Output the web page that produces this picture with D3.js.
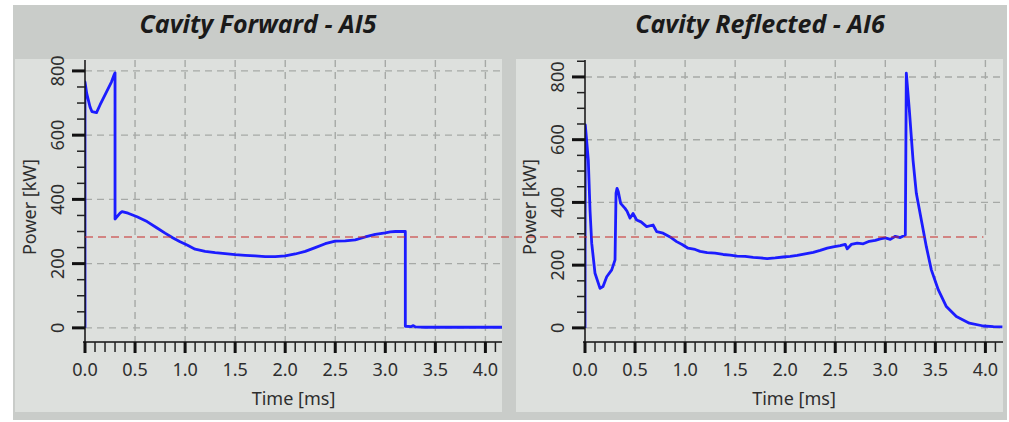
<!DOCTYPE html>
<html>
<head>
<meta charset="utf-8">
<script src="https://cdn.jsdelivr.net/npm/d3@7"></script>
<style>
  html, body { margin: 0; padding: 0; background: #ffffff; }
  svg { display: block; }
</style>
</head>
<body>
<svg id="chart" width="1009" height="422"></svg>
<script>
// Cavity forward power (AI5): time [ms] and power [kW]
const forwardTime = [0, 0, 0.017, 0.05, 0.07, 0.115, 0.15, 0.215, 0.265, 0.29, 0.30, 0.30, 0.35, 0.37, 0.43, 0.52, 0.62, 0.72, 0.80, 0.88, 0.95, 1.02, 1.10, 1.20, 1.30, 1.40, 1.50, 1.60, 1.70, 1.80, 1.90, 2.00, 2.10, 2.20, 2.30, 2.40, 2.50, 2.60, 2.70, 2.80, 2.90, 3.00, 3.05, 3.10, 3.20, 3.20, 3.26, 3.28, 3.30, 3.40, 4.17];
const forwardPower = [0, 766, 730, 688, 673, 670, 694, 735, 766, 787, 794, 339, 357, 362, 357, 346, 331, 311, 295, 280, 268, 258, 245, 238, 234, 231, 228, 226, 224, 222, 222, 224, 230, 238, 250, 262, 270, 271, 274, 283, 291, 296, 299, 300, 300, 5, 4, 7, 3, 2, 2];

// Cavity reflected power (AI6)
const reflectedTime = [0, 0.003, 0.033, 0.05, 0.067, 0.10, 0.15, 0.18, 0.217, 0.267, 0.30, 0.31, 0.32, 0.333, 0.356, 0.40, 0.42, 0.45, 0.48, 0.516, 0.56, 0.616, 0.68, 0.716, 0.78, 0.85, 0.915, 0.97, 1.03, 1.10, 1.15, 1.22, 1.30, 1.38, 1.45, 1.52, 1.60, 1.68, 1.75, 1.82, 1.90, 1.98, 2.05, 2.12, 2.20, 2.28, 2.35, 2.42, 2.48, 2.55, 2.60, 2.62, 2.66, 2.72, 2.78, 2.84, 2.90, 2.95, 3.00, 3.05, 3.10, 3.15, 3.20, 3.21, 3.24, 3.277, 3.31, 3.36, 3.41, 3.46, 3.53, 3.61, 3.71, 3.84, 3.98, 4.08, 4.17];
const reflectedPower = [0, 647, 535, 376, 270, 174, 126, 132, 163, 185, 217, 430, 445, 434, 397, 381, 372, 350, 365, 344, 338, 323, 328, 307, 302, 290, 275, 266, 254, 250, 244, 240, 238, 234, 232, 229, 228, 225, 223, 221, 223, 226, 228, 231, 236, 241, 247, 254, 258, 262, 266, 252, 266, 270, 268, 276, 279, 284, 287, 282, 292, 288, 296, 812, 695, 535, 429, 344, 259, 185, 121, 68, 36, 15, 6, 4, 3];

// Axis ticks
const timeMajorTicks = [0, 0.5, 1.0, 1.5, 2.0, 2.5, 3.0, 3.5, 4.0];
const powerMajorTicks = [0, 200, 400, 600, 800];

// Horizontal reference level shared by both panels
const referenceLevelKW = 283;
const referenceEndMs = 3.98;

const titles = ["Cavity Forward - AI5", "Cavity Reflected - AI6"];

const svg = d3.select("#chart");
const fontFamily = "'Noto Sans', 'Open Sans', sans-serif";

// frame
svg.append("rect").attr("x", 13).attr("y", 5).attr("width", 994).attr("height", 415)
  .attr("fill", "#c9ccc9");

const panels = [
  { title: titles[0], time: forwardTime, power: forwardPower,
    left: 15, right: 502, axisX: 85, yMax: 834, yMin: -44, cx: 258 },
  { title: titles[1], time: reflectedTime, power: reflectedPower,
    left: 516, right: 1003, axisX: 585, yMax: 854, yMin: -45, cx: 760 }
];

const plotTop = 60, axisY = 342, panelTop = 59, panelBottom = 412;
const scales = [];

panels.forEach((p, i) => {
  const g = svg.append("g");

  g.append("rect").attr("x", p.left).attr("y", panelTop)
    .attr("width", p.right - p.left).attr("height", panelBottom - panelTop)
    .attr("fill", "#dde0dd");

  g.append("text").attr("x", p.cx).attr("y", 33)
    .attr("text-anchor", "middle")
    .attr("font-family", "'Open Sans', 'Noto Sans', sans-serif")
    .attr("font-style", "italic").attr("font-weight", "bold")
    .attr("font-size", 25).attr("fill", "#1a1a1a")
    .text(p.title);

  const x = d3.scaleLinear().domain([0, (p.right - p.axisX) / 100.1]).range([p.axisX, p.right]);
  const y = d3.scaleLinear().domain([p.yMin, p.yMax]).range([axisY, plotTop]);
  scales.push({ x, y });

  const minorX = d3.range(0, 42).map(d => d / 10).filter(d => x(d) <= p.right);
  const minorY = d3.range(0, p.yMax, 50);

  // grid
  const grid = g.append("g").attr("stroke", "#a6a9a6").attr("stroke-width", 1.4)
    .attr("stroke-dasharray", "7,5");
  grid.selectAll(".gx").data(timeMajorTicks.filter(d => d > 0)).join("line")
    .attr("x1", d => x(d)).attr("x2", d => x(d)).attr("y1", plotTop).attr("y2", axisY);
  grid.selectAll(".gy").data(powerMajorTicks).join("line")
    .attr("x1", x(0)).attr("x2", p.right).attr("y1", d => y(d)).attr("y2", d => y(d));

  // data line
  const clipId = "clip" + i;
  svg.append("clipPath").attr("id", clipId).append("rect")
    .attr("x", p.axisX).attr("y", plotTop - 2).attr("width", p.right - p.axisX).attr("height", axisY - plotTop + 2);
  const pts = p.time.map((t, k) => [t, p.power[k]]);
  g.append("path").datum(pts)
    .attr("clip-path", `url(#${clipId})`)
    .attr("fill", "none").attr("stroke", "#1c1cff").attr("stroke-width", 2.8)
    .attr("stroke-linejoin", "round")
    .attr("d", d3.line().x(d => x(d[0])).y(d => y(d[1])));

  // y axis
  const yAxis = g.append("g");
  yAxis.append("line").attr("x1", p.axisX).attr("x2", p.axisX).attr("y1", plotTop).attr("y2", axisY)
    .attr("stroke", "#111").attr("stroke-width", 1.5);
  yAxis.selectAll(".ym").data(minorY.filter(d => powerMajorTicks.indexOf(d) < 0)).join("line")
    .attr("x1", p.axisX - 8).attr("x2", p.axisX).attr("y1", d => y(d)).attr("y2", d => y(d))
    .attr("stroke", "#222").attr("stroke-width", 1.5);
  yAxis.selectAll(".yM").data(powerMajorTicks).join("line")
    .attr("x1", p.axisX - 13).attr("x2", p.axisX).attr("y1", d => y(d)).attr("y2", d => y(d))
    .attr("stroke", "#111").attr("stroke-width", 3);
  yAxis.selectAll(".yl").data(powerMajorTicks).join("text")
    .attr("transform", d => `translate(${p.axisX - 21},${y(d)}) rotate(-90)`)
    .attr("text-anchor", "middle")
    .attr("font-family", fontFamily).attr("font-size", 18).attr("fill", "#2e2e2e")
    .text(d => d);
  yAxis.append("text")
    .attr("transform", `translate(${p.axisX - 49},${(plotTop + axisY) / 2 + 6}) rotate(-90)`)
    .attr("text-anchor", "middle")
    .attr("font-family", fontFamily).attr("font-size", 18).attr("fill", "#2e2e2e")
    .text("Power [kW]");

  // x axis
  const xAxis = g.append("g");
  xAxis.append("line").attr("x1", p.axisX - 2).attr("x2", p.right).attr("y1", axisY).attr("y2", axisY)
    .attr("stroke", "#111").attr("stroke-width", 1.5);
  xAxis.selectAll(".xm").data(minorX).join("line")
    .attr("x1", d => x(d)).attr("x2", d => x(d)).attr("y1", axisY).attr("y2", axisY + 10)
    .attr("stroke", "#222").attr("stroke-width", 1.5);
  xAxis.selectAll(".xM").data(timeMajorTicks).join("line")
    .attr("x1", d => x(d)).attr("x2", d => x(d)).attr("y1", axisY).attr("y2", axisY + 11)
    .attr("stroke", "#111").attr("stroke-width", 3);
  xAxis.selectAll(".xl").data(timeMajorTicks).join("text")
    .attr("x", d => x(d)).attr("y", axisY + 34)
    .attr("text-anchor", "middle")
    .attr("font-family", fontFamily).attr("font-size", 18).attr("fill", "#2e2e2e")
    .text(d => d3.format(".1f")(d));
  xAxis.append("text")
    .attr("x", (p.axisX + p.right) / 2).attr("y", axisY + 63)
    .attr("text-anchor", "middle")
    .attr("font-family", fontFamily).attr("font-size", 18).attr("fill", "#2e2e2e")
    .text("Time [ms]");
});

// reference level spanning both panels
svg.append("line")
  .attr("x1", scales[0].x(0)).attr("x2", scales[1].x(referenceEndMs))
  .attr("y1", scales[0].y(referenceLevelKW)).attr("y2", scales[0].y(referenceLevelKW))
  .attr("stroke", "#c82828").attr("stroke-width", 1.1)
  .attr("stroke-dasharray", "8,5");
</script>
</body>
</html>
